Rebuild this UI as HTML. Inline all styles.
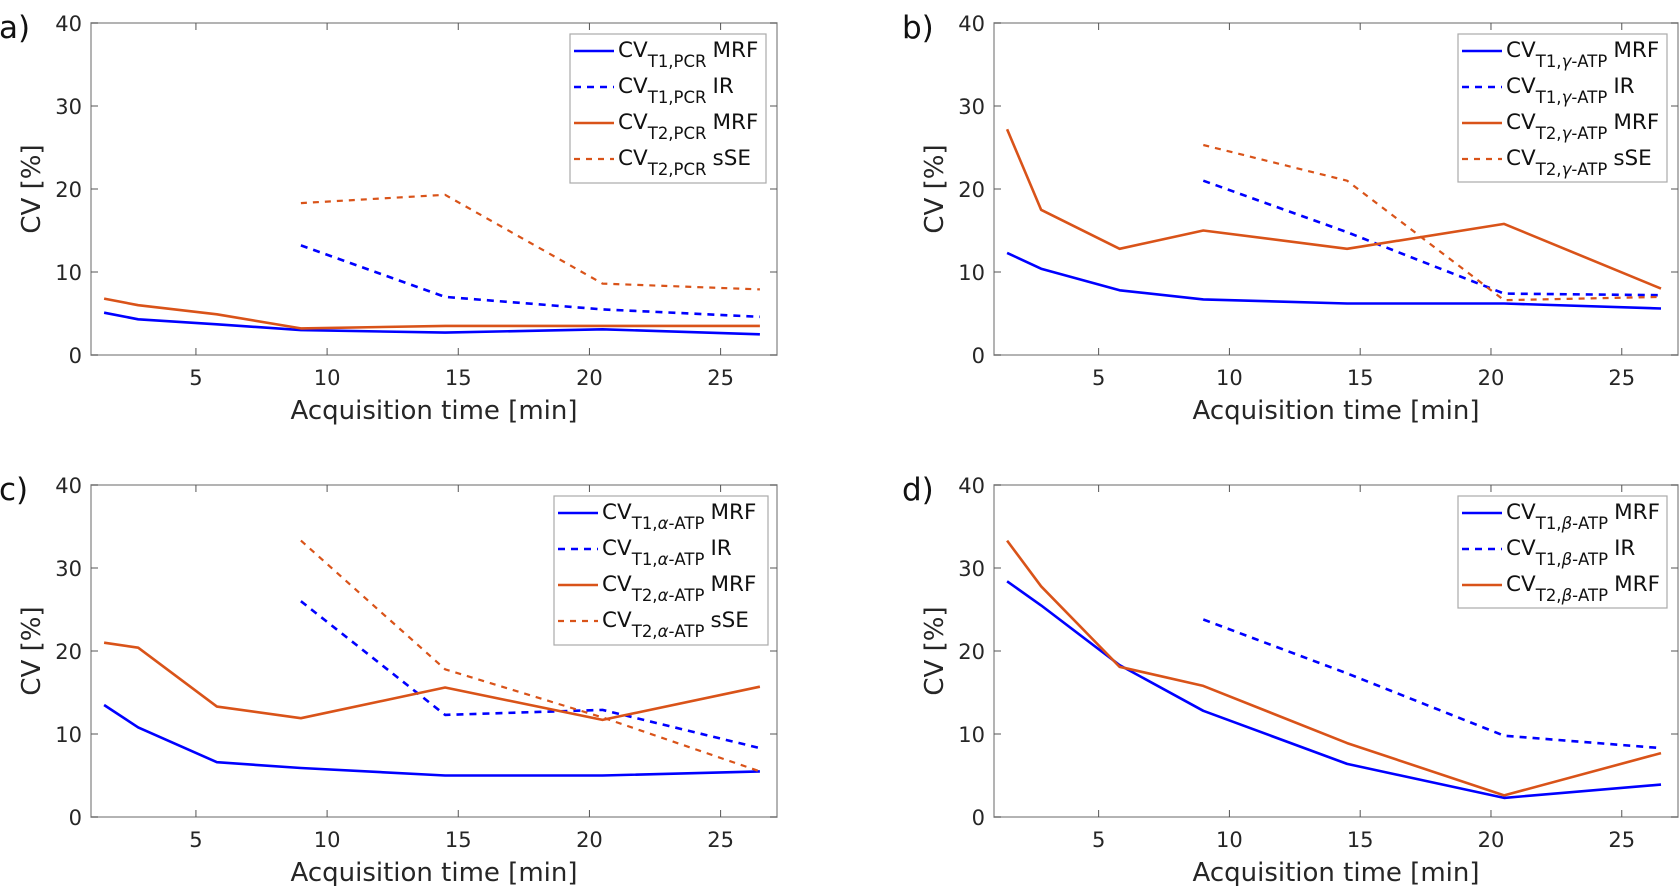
<!DOCTYPE html>
<html><head><meta charset="utf-8">
<style>
html,body{margin:0;padding:0;background:#fff;}
svg{display:block;font-family:"DejaVu Sans","Liberation Sans",sans-serif;}
</style></head>
<body>
<svg id="fig" width="1679" height="886" viewBox="0 0 1679 886" xmlns="http://www.w3.org/2000/svg"></svg>
<script>
const xTimes = [1.5, 2.8, 5.8, 9, 14.5, 20.5, 26.5];
const xTicks = [5, 10, 15, 20, 25];
const yTicks = [0, 10, 20, 30, 40];
const aT1MRF = [5.1, 4.3, 3.7, 3.0, 2.7, 3.1, 2.5];
const aT1IR  = [null, null, null, 13.2, 7.0, 5.5, 4.6];
const aT2MRF = [6.8, 6.0, 4.9, 3.2, 3.5, 3.5, 3.5];
const aT2SSE = [null, null, null, 18.3, 19.3, 8.6, 7.9];
const bT1MRF = [12.3, 10.4, 7.8, 6.7, 6.2, 6.2, 5.6];
const bT1IR  = [null, null, null, 21.0, 14.8, 7.4, 7.2];
const bT2MRF = [27.2, 17.5, 12.8, 15.0, 12.8, 15.8, 8.0];
const bT2SSE = [null, null, null, 25.3, 21.0, 6.6, 7.0];
const cT1MRF = [13.5, 10.8, 6.6, 5.9, 5.0, 5.0, 5.5];
const cT1IR  = [null, null, null, 26.0, 12.3, 12.9, 8.3];
const cT2MRF = [21.0, 20.4, 13.3, 11.9, 15.6, 11.7, 15.7];
const cT2SSE = [null, null, null, 33.3, 17.8, 12.0, 5.5];
const dT1MRF = [28.4, 25.5, 18.3, 12.8, 6.4, 2.3, 3.9];
const dT1IR  = [null, null, null, 23.8, 17.3, 9.8, 8.3];
const dT2MRF = [33.3, 27.8, 18.1, 15.8, 8.9, 2.6, 7.7];

const NS = "http://www.w3.org/2000/svg";
const svg = document.getElementById('fig');
function el(tag, attrs, parent){const e=document.createElementNS(NS,tag);for(const k in attrs)e.setAttribute(k,attrs[k]);(parent||svg).appendChild(e);return e;}

const BLUE="#0000ff", ORANGE="#d95319";
const styles = {
  mrf1:{stroke:BLUE,w:2.6,dash:null},
  ir1:{stroke:BLUE,w:2.6,dash:"7 6"},
  mrf2:{stroke:ORANGE,w:2.6,dash:null},
  sse2:{stroke:ORANGE,w:2.2,dash:"6 6"}
};
const panels = [
  {id:'a', L:91, R:777, T:23, B:355, sub:'PCR', greek:null,
   leg:{x:570,y:34,w:196,h:149},
   series:[['mrf1',aT1MRF,'T1','MRF'],['ir1',aT1IR,'T1','IR'],['mrf2',aT2MRF,'T2','MRF'],['sse2',aT2SSE,'T2','sSE']]},
  {id:'b', L:994, R:1678, T:23, B:355, sub:'-ATP', greek:'γ',
   leg:{x:1458,y:34,w:209,h:148},
   series:[['mrf1',bT1MRF,'T1','MRF'],['ir1',bT1IR,'T1','IR'],['mrf2',bT2MRF,'T2','MRF'],['sse2',bT2SSE,'T2','sSE']]},
  {id:'c', L:91, R:777, T:485, B:817, sub:'-ATP', greek:'α',
   leg:{x:554,y:496,w:214,h:149},
   series:[['mrf1',cT1MRF,'T1','MRF'],['ir1',cT1IR,'T1','IR'],['mrf2',cT2MRF,'T2','MRF'],['sse2',cT2SSE,'T2','sSE']]},
  {id:'d', L:994, R:1678, T:485, B:817, sub:'-ATP', greek:'β',
   leg:{x:1458,y:496,w:209,h:112},
   series:[['mrf1',dT1MRF,'T1','MRF'],['ir1',dT1IR,'T1','IR'],['mrf2',dT2MRF,'T2','MRF']]}
];
const XMIN=1, XMAX=27.15, YMIN=0, YMAX=40;

panels.forEach(p=>{
  const g = el('g',{});
  
  
  const sx = v => p.L + (v-XMIN)/(XMAX-XMIN)*(p.R-p.L);
  const sy = v => p.B - (v-YMIN)/(YMAX-YMIN)*(p.B-p.T);
  const fr = el('rect',{x:p.L,y:p.T,width:p.R-p.L,height:p.B-p.T,fill:'none',stroke:'#9a9a9a','stroke-width':1.5},g);
  
  
  xTicks.forEach(t=>{
    const x=sx(t);
    el('line',{x1:x,x2:x,y1:p.B,y2:p.B-7,stroke:'#555','stroke-width':1},g);
    el('line',{x1:x,x2:x,y1:p.T,y2:p.T+7,stroke:'#555','stroke-width':1},g);
    const tx=el('text',{x:x,y:p.B+30,'font-size':21,'text-anchor':'middle',fill:'#262626'},g);
    tx.textContent=t;
    
    
  });
  yTicks.forEach(t=>{
    const y=sy(t);
    el('line',{x1:p.L,x2:p.L+7,y1:y,y2:y,stroke:'#555','stroke-width':1},g);
    el('line',{x1:p.R,x2:p.R-7,y1:y,y2:y,stroke:'#555','stroke-width':1},g);
    const tx=el('text',{x:p.L-9,y:y+8,'font-size':21,'text-anchor':'end',fill:'#262626'},g);
    tx.textContent=t;
    
    
  });
  const xl=el('text',{x:(p.L+p.R)/2,y:p.B+64,'font-size':26,'text-anchor':'middle',fill:'#262626'},g);
  xl.textContent='Acquisition time [min]';
  
  
  const cyl=(p.T+p.B)/2;
  const yl=el('text',{x:0,y:0,'font-size':26,'text-anchor':'middle',fill:'#262626',transform:`translate(${p.L-51},${cyl}) rotate(-90)`},g);
  yl.textContent='CV [%]';
  
  
  const pl=el('text',{x:p.L-92,y:p.T+15,'font-size':31,fill:'#111'},g);
  pl.textContent=p.id+')';
  
  
  p.series.forEach(s=>{
    const st=styles[s[0]], vals=s[1];
    let d='';
    vals.forEach((v,i)=>{ if(v===null) return; d += (d?'L':'M')+sx(xTimes[i]).toFixed(1)+','+sy(v).toFixed(1); });
    const path=el('path',{d:d,fill:'none',stroke:st.stroke,'stroke-width':st.w,'stroke-linejoin':'round'},g);
    if(st.dash) path.setAttribute('stroke-dasharray',st.dash);
    
    
  });
  const lg=el('g',{},g);
  
  
  el('rect',{x:p.leg.x,y:p.leg.y,width:p.leg.w,height:p.leg.h,fill:'#fff',stroke:'#aaa','stroke-width':1.2},lg);
  p.series.forEach((s,i)=>{
    const st=styles[s[0]];
    const by=p.leg.y+23+i*36;
    const ly=by-6;
    const ln=el('line',{x1:p.leg.x+4,x2:p.leg.x+44,y1:ly,y2:ly,stroke:st.stroke,'stroke-width':st.w},lg);
    if(st.dash) ln.setAttribute('stroke-dasharray',st.dash);
    const t=el('text',{x:p.leg.x+48,y:by,'font-size':21.5,fill:'#111'},lg);
    
    
    const a=el('tspan',{},t); a.textContent='CV';
    const sb=el('tspan',{dy:10,'font-size':16.5},t);
    sb.textContent=s[2]+','+(p.greek? '' : p.sub);
    if(p.greek){
      const gk=el('tspan',{'font-size':16.5,'font-style':'italic'},t); gk.textContent=p.greek;
      const rest=el('tspan',{'font-size':16.5},t); rest.textContent=p.sub;
    }
    const lab=el('tspan',{dy:-10,dx:6},t); lab.textContent=s[3];
  });
});
</script>
</body></html>
